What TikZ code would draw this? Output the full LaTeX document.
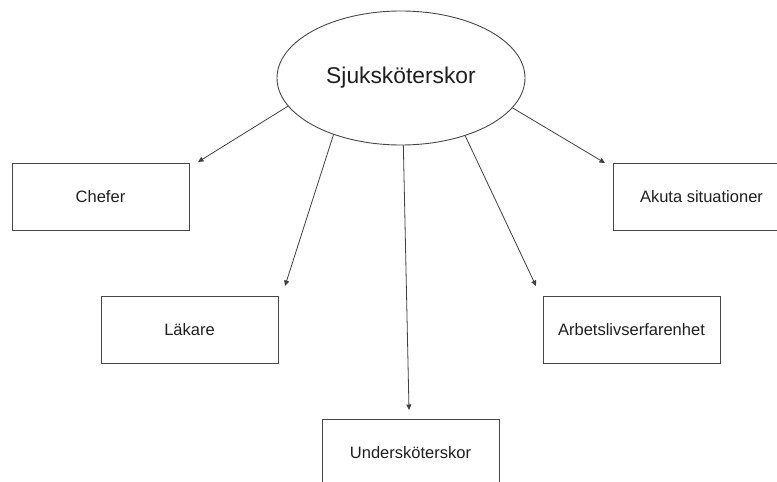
\documentclass[tikz,border=0pt]{standalone}
\usepackage{fontspec}
\setmainfont{Liberation Sans}
\usetikzlibrary{arrows.meta,shapes.geometric}
\begin{document}
\begin{tikzpicture}[x=1pt,y=-1pt,
  box/.style={draw=black!72, line width=0.9pt, minimum width=177pt, minimum height=67pt,
    inner sep=0pt, font=\fontsize{16.5}{18}\selectfont, text=black!88},
  hub/.style={ellipse, draw=black!72, line width=0.9pt, minimum width=248pt, minimum height=134pt,
    inner sep=0pt, font=\fontsize{22.8}{26}\selectfont, text=black!88},
  arr/.style={draw=black!75, line width=0.8pt, -{Triangle[length=5.5pt,width=5pt]}}
]
\useasboundingbox (0,0) rectangle (777,482);
\fill[white] (0,0) rectangle (777,482);

\node[hub] (s) at (401,78) {Sjuksköterskor};

\node[box] (chefer) at (100.5,196.5) {Chefer};
\node[box] (lakare) at (189.5,329.5) {Läkare};
\node[box] (under) at (410.5,452.5) {Undersköterskor};
\node[box] (arbets) at (631.5,330) {Arbetslivserfarenhet};
\node[box] (akuta) at (701.5,196.5) {Akuta situationer};

\coordinate (tchefer) at (198,162);
\coordinate (tlakare) at (285,286);
\coordinate (tunder) at (409,410);
\coordinate (tarbets) at (536,286);
\coordinate (takuta) at (605,163);

\draw[arr] (s.194.6) -- (tchefer);
\draw[arr] (s.220.9) -- (tlakare);
\draw[arr] (s.272.6) -- (tunder);
\draw[arr] (s.318.2) -- (tarbets);
\draw[arr] (s.345) -- (takuta);
\end{tikzpicture}
\end{document}
